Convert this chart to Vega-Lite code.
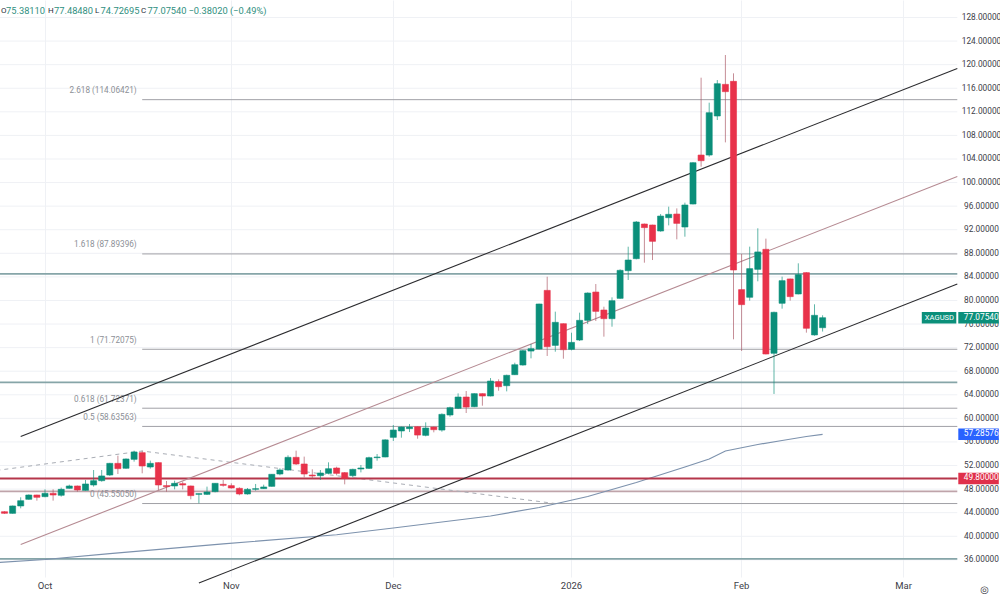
{"$schema":"https://vega.github.io/schema/vega-lite/v6.json","width":1000,"height":577,"autosize":"none","padding":{"left":0,"top":0,"right":0,"bottom":25},"background":"#ffffff","config":{"view":{"stroke":null},"text":{"font":"Roboto","fontSize":9.3},"axisY":{"labelOverlap":false,"labelBound":false}},
"datasets":{
"candles":[
{"d":"2025-09-24","o":44.17,"h":44.25,"l":43.8,"c":43.89},{"d":"2025-09-25","o":43.89,"h":45.2,"l":43.85,"c":45.14},{"d":"2025-09-26","o":45.14,"h":46.61,"l":44.74,"c":46.04},{"d":"2025-09-29","o":46.27,"h":47.1,"l":46.2,"c":47.0},{"d":"2025-09-30","o":47.0,"h":47.05,"l":46.04,"c":46.61},
{"d":"2025-10-01","o":46.72,"h":47.96,"l":46.61,"c":47.28},{"d":"2025-10-02","o":47.28,"h":47.96,"l":46.04,"c":47.0},{"d":"2025-10-03","o":46.95,"h":48.25,"l":46.72,"c":47.96},{"d":"2025-10-06","o":48.13,"h":48.75,"l":48.08,"c":48.53},{"d":"2025-10-07","o":48.53,"h":48.6,"l":47.57,"c":47.85},
{"d":"2025-10-08","o":47.79,"h":49.55,"l":47.73,"c":48.87},{"d":"2025-10-09","o":48.7,"h":51.24,"l":48.42,"c":49.43},{"d":"2025-10-10","o":49.43,"h":51.24,"l":49.26,"c":50.23},{"d":"2025-10-13","o":50.39,"h":52.45,"l":50.23,"c":52.37},{"d":"2025-10-14","o":52.37,"h":53.67,"l":50.56,"c":51.47},
{"d":"2025-10-15","o":51.53,"h":53.2,"l":51.45,"c":53.11},{"d":"2025-10-16","o":53.05,"h":54.52,"l":52.66,"c":54.3},{"d":"2025-10-17","o":54.18,"h":54.52,"l":50.68,"c":51.92},{"d":"2025-10-20","o":51.75,"h":52.83,"l":51.47,"c":52.37},{"d":"2025-10-21","o":52.49,"h":52.55,"l":47.85,"c":48.7},
{"d":"2025-10-22","o":48.59,"h":49.38,"l":47.57,"c":48.42},{"d":"2025-10-23","o":48.53,"h":49.43,"l":47.96,"c":48.98},{"d":"2025-10-24","o":48.92,"h":49.26,"l":47.96,"c":48.7},{"d":"2025-10-27","o":48.53,"h":48.6,"l":46.27,"c":46.89},{"d":"2025-10-28","o":47.11,"h":47.25,"l":45.59,"c":47.23},
{"d":"2025-10-29","o":47.11,"h":48.42,"l":47.0,"c":47.51},{"d":"2025-10-30","o":47.57,"h":49.0,"l":47.45,"c":48.98},{"d":"2025-10-31","o":48.81,"h":49.55,"l":48.42,"c":48.64},{"d":"2025-11-03","o":48.59,"h":48.98,"l":48.08,"c":48.19},{"d":"2025-11-04","o":48.13,"h":48.3,"l":46.95,"c":47.17},
{"d":"2025-11-05","o":47.17,"h":48.19,"l":47.06,"c":47.96},{"d":"2025-11-06","o":47.96,"h":48.87,"l":47.73,"c":48.08},{"d":"2025-11-07","o":48.08,"h":48.75,"l":48.02,"c":48.36},{"d":"2025-11-10","o":48.47,"h":50.56,"l":48.42,"c":50.51},{"d":"2025-11-11","o":50.56,"h":51.53,"l":50.34,"c":51.24},
{"d":"2025-11-12","o":51.24,"h":53.73,"l":51.13,"c":53.39},{"d":"2025-11-13","o":53.39,"h":54.52,"l":52.09,"c":52.26},{"d":"2025-11-14","o":52.26,"h":53.51,"l":50.0,"c":50.56},{"d":"2025-11-17","o":50.39,"h":51.36,"l":49.77,"c":50.23},{"d":"2025-11-18","o":50.28,"h":51.24,"l":49.55,"c":50.73},
{"d":"2025-11-19","o":50.67,"h":52.54,"l":50.5,"c":51.46},{"d":"2025-11-20","o":51.58,"h":51.8,"l":50.33,"c":50.67},{"d":"2025-11-21","o":50.79,"h":50.9,"l":48.81,"c":49.82},{"d":"2025-11-24","o":50.28,"h":51.46,"l":49.99,"c":51.35},{"d":"2025-11-25","o":51.41,"h":52.09,"l":50.84,"c":51.58},
{"d":"2025-11-26","o":51.52,"h":53.5,"l":51.41,"c":53.33},{"d":"2025-11-27","o":53.33,"h":53.95,"l":52.82,"c":53.44},{"d":"2025-11-28","o":53.45,"h":56.45,"l":53.4,"c":56.35},{"d":"2025-12-01","o":56.78,"h":58.87,"l":56.16,"c":58.02},{"d":"2025-12-02","o":57.86,"h":58.6,"l":56.72,"c":58.53},
{"d":"2025-12-03","o":58.25,"h":59.04,"l":57.68,"c":58.53},{"d":"2025-12-04","o":58.59,"h":58.65,"l":56.55,"c":57.17},{"d":"2025-12-05","o":57.12,"h":59.32,"l":56.95,"c":58.36},{"d":"2025-12-08","o":58.53,"h":58.6,"l":57.63,"c":58.08},{"d":"2025-12-09","o":58.02,"h":60.85,"l":57.74,"c":60.68},
{"d":"2025-12-10","o":60.57,"h":61.98,"l":60.28,"c":61.81},{"d":"2025-12-11","o":61.7,"h":64.24,"l":61.58,"c":63.62},{"d":"2025-12-12","o":63.62,"h":64.64,"l":60.91,"c":61.92},{"d":"2025-12-15","o":61.98,"h":64.25,"l":61.9,"c":64.19},{"d":"2025-12-16","o":64.19,"h":64.25,"l":62.15,"c":63.79},
{"d":"2025-12-17","o":63.79,"h":66.84,"l":63.73,"c":66.33},{"d":"2025-12-18","o":66.22,"h":66.62,"l":64.69,"c":65.37},{"d":"2025-12-19","o":65.54,"h":67.41,"l":64.58,"c":67.3},{"d":"2025-12-22","o":67.41,"h":69.44,"l":67.35,"c":69.1},{"d":"2025-12-23","o":69.05,"h":71.59,"l":68.93,"c":71.48},
{"d":"2025-12-24","o":71.42,"h":72.61,"l":70.18,"c":71.82},{"d":"2025-12-26","o":71.76,"h":79.45,"l":71.7,"c":79.4},{"d":"2025-12-29","o":81.71,"h":84.03,"l":70.58,"c":72.16},{"d":"2025-12-30","o":72.38,"h":78.1,"l":71.31,"c":76.29},{"d":"2025-12-31","o":76.06,"h":76.1,"l":70.12,"c":71.65},
{"d":"2026-01-01","o":71.71,"h":74.53,"l":71.54,"c":72.89},{"d":"2026-01-02","o":73.29,"h":77.93,"l":73.12,"c":76.63},{"d":"2026-01-05","o":76.63,"h":81.37,"l":76.0,"c":81.26},{"d":"2026-01-06","o":81.43,"h":82.79,"l":76.51,"c":78.15},{"d":"2026-01-07","o":78.38,"h":78.94,"l":73.86,"c":76.91},
{"d":"2026-01-08","o":76.91,"h":80.53,"l":75.55,"c":79.96},{"d":"2026-01-09","o":80.36,"h":85.28,"l":80.3,"c":85.11},{"d":"2026-01-12","o":85.05,"h":89.12,"l":83.47,"c":86.86},{"d":"2026-01-13","o":87.09,"h":93.48,"l":86.97,"c":93.31},{"d":"2026-01-14","o":92.97,"h":93.05,"l":86.41,"c":92.35},
{"d":"2026-01-15","o":92.8,"h":92.85,"l":86.86,"c":90.03},{"d":"2026-01-16","o":91.78,"h":94.66,"l":91.67,"c":94.32},{"d":"2026-01-20","o":94.04,"h":95.91,"l":92.74,"c":94.61},{"d":"2026-01-21","o":94.66,"h":95.62,"l":90.37,"c":93.08},{"d":"2026-01-22","o":92.46,"h":96.59,"l":90.82,"c":96.19},
{"d":"2026-01-23","o":96.36,"h":103.45,"l":96.3,"c":103.37},{"d":"2026-01-26","o":104.67,"h":117.79,"l":102.69,"c":103.71},{"d":"2026-01-27","o":104.67,"h":113.55,"l":104.39,"c":111.85},{"d":"2026-01-28","o":111.29,"h":117.39,"l":110.61,"c":116.77},{"d":"2026-01-29","o":116.66,"h":121.64,"l":106.82,"c":115.42},
{"d":"2026-01-30","o":117.17,"h":118.53,"l":73.41,"c":85.17},{"d":"2026-02-02","o":81.84,"h":87.89,"l":71.43,"c":79.29},{"d":"2026-02-03","o":80.54,"h":89.13,"l":79.97,"c":85.4},{"d":"2026-02-04","o":85.28,"h":92.24,"l":83.25,"c":88.23},{"d":"2026-02-05","o":88.68,"h":90.49,"l":70.85,"c":70.92},
{"d":"2026-02-06","o":71.04,"h":78.1,"l":64.14,"c":77.99},{"d":"2026-02-09","o":79.52,"h":84.04,"l":78.61,"c":83.36},{"d":"2026-02-10","o":83.65,"h":83.7,"l":79.97,"c":80.65},{"d":"2026-02-11","o":81.1,"h":86.3,"l":81.04,"c":84.38},{"d":"2026-02-12","o":84.72,"h":84.8,"l":74.54,"c":75.28},
{"d":"2026-02-13","o":74.15,"h":79.35,"l":74.03,"c":77.48},{"d":"2026-02-16","o":75.3811,"h":77.4848,"l":74.72695,"c":77.0754}
],
"sma":[{"d":"2025-09-23","p":35.53},{"d":"2025-10-01","p":36.06},{"d":"2025-10-13","p":37.07},{"d":"2025-10-31","p":38.7},{"d":"2025-11-20","p":40.26},{"d":"2025-12-01","p":41.4},{"d":"2025-12-17","p":43.44},{"d":"2025-12-26","p":44.88},{"d":"2026-01-05","p":46.75},{"d":"2026-01-13","p":49.12},{"d":"2026-01-22","p":51.75},{"d":"2026-01-27","p":53.1},{"d":"2026-01-29","p":54.46},{"d":"2026-02-04","p":55.57},{"d":"2026-02-09","p":56.25},{"d":"2026-02-12","p":56.92},{"d":"2026-02-16","p":57.28576}],
"zigzag":[{"d":"2025-09-23","p":51.16},{"d":"2025-10-17","p":54.46},{"d":"2025-12-30","p":45.55}],
"channels":[{"d":"2025-09-26","d2":"2026-03-11","p":56.92,"p2":119.35,"name":"upper"},{"d":"2025-09-26","d2":"2026-03-11","p":38.6,"p2":101.03,"name":"middle"},{"d":"2025-10-28","d2":"2026-03-11","p":32.07,"p2":82.79,"name":"lower"}],
"fib":[{"d":"2025-10-17","d2":"2026-03-11","p":114.06421,"t":"2.618 (114.06421)"},{"d":"2025-10-17","d2":"2026-03-11","p":87.89396,"t":"1.618 (87.89396)"},{"d":"2025-10-17","d2":"2026-03-11","p":71.72075,"t":"1 (71.72075)"},{"d":"2025-10-17","d2":"2026-03-11","p":61.72371,"t":"0.618 (61.72371)"},{"d":"2025-10-17","d2":"2026-03-11","p":58.63563,"t":"0.5 (58.63563)"},{"d":"2025-10-17","d2":"2026-03-11","p":45.5505,"t":"0 (45.55050)"}],
"levels":[{"d":"2025-09-23","d2":"2026-03-11","p":84.5,"kind":"a"},{"d":"2025-09-23","d2":"2026-03-11","p":66.1,"kind":"a"},{"d":"2025-09-23","d2":"2026-03-11","p":36.15,"kind":"a"},{"d":"2025-09-23","d2":"2026-03-11","p":49.8,"kind":"b"},{"d":"2025-09-23","d2":"2026-03-11","p":47.6,"kind":"c"}],
"ygrid":[{"d":"2025-09-23","d2":"2026-03-11","p":128},{"d":"2025-09-23","d2":"2026-03-11","p":124},{"d":"2025-09-23","d2":"2026-03-11","p":120},{"d":"2025-09-23","d2":"2026-03-11","p":116},{"d":"2025-09-23","d2":"2026-03-11","p":112},{"d":"2025-09-23","d2":"2026-03-11","p":108},{"d":"2025-09-23","d2":"2026-03-11","p":104},{"d":"2025-09-23","d2":"2026-03-11","p":100},{"d":"2025-09-23","d2":"2026-03-11","p":96},{"d":"2025-09-23","d2":"2026-03-11","p":92},{"d":"2025-09-23","d2":"2026-03-11","p":88},{"d":"2025-09-23","d2":"2026-03-11","p":84},{"d":"2025-09-23","d2":"2026-03-11","p":80},{"d":"2025-09-23","d2":"2026-03-11","p":76},{"d":"2025-09-23","d2":"2026-03-11","p":72},{"d":"2025-09-23","d2":"2026-03-11","p":68},{"d":"2025-09-23","d2":"2026-03-11","p":64},{"d":"2025-09-23","d2":"2026-03-11","p":60},{"d":"2025-09-23","d2":"2026-03-11","p":56},{"d":"2025-09-23","d2":"2026-03-11","p":52},{"d":"2025-09-23","d2":"2026-03-11","p":48},{"d":"2025-09-23","d2":"2026-03-11","p":44},{"d":"2025-09-23","d2":"2026-03-11","p":40},{"d":"2025-09-23","d2":"2026-03-11","p":36}],
"tags":[{"d":"2026-03-11","d2":"2026-03-18","p":77.0754,"t":"77.07540","col":"#0b8f7a"},{"d":"2026-03-11","d2":"2026-03-18","p":57.28576,"t":"57.28576","col":"#2962ff"},{"d":"2026-03-11","d2":"2026-03-18","p":49.8,"t":"49.80000","col":"#e0304a"}]
},
"encoding":{"x":{"field":"d","type":"ordinal","title":null,"sort":null,
"scale":{"type":"band","paddingInner":0.25,"paddingOuter":0.125,"range":[-7.65,1004.85],"domain":["2025-09-23","2025-09-24","2025-09-25","2025-09-26","2025-09-29","2025-09-30","2025-10-01","2025-10-02","2025-10-03","2025-10-06","2025-10-07","2025-10-08","2025-10-09","2025-10-10","2025-10-13","2025-10-14","2025-10-15","2025-10-16","2025-10-17","2025-10-20","2025-10-21","2025-10-22","2025-10-23","2025-10-24","2025-10-27","2025-10-28","2025-10-29","2025-10-30","2025-10-31","2025-11-03","2025-11-04","2025-11-05","2025-11-06","2025-11-07","2025-11-10","2025-11-11","2025-11-12","2025-11-13","2025-11-14","2025-11-17","2025-11-18","2025-11-19","2025-11-20","2025-11-21","2025-11-24","2025-11-25","2025-11-26","2025-11-27","2025-11-28","2025-12-01","2025-12-02","2025-12-03","2025-12-04","2025-12-05","2025-12-08","2025-12-09","2025-12-10","2025-12-11","2025-12-12","2025-12-15","2025-12-16","2025-12-17","2025-12-18","2025-12-19","2025-12-22","2025-12-23","2025-12-24","2025-12-26","2025-12-29","2025-12-30","2025-12-31","2026-01-01","2026-01-02","2026-01-05","2026-01-06","2026-01-07","2026-01-08","2026-01-09","2026-01-12","2026-01-13","2026-01-14","2026-01-15","2026-01-16","2026-01-20","2026-01-21","2026-01-22","2026-01-23","2026-01-26","2026-01-27","2026-01-28","2026-01-29","2026-01-30","2026-02-02","2026-02-03","2026-02-04","2026-02-05","2026-02-06","2026-02-09","2026-02-10","2026-02-11","2026-02-12","2026-02-13","2026-02-16","2026-02-17","2026-02-18","2026-02-19","2026-02-20","2026-02-23","2026-02-24","2026-02-25","2026-02-26","2026-02-27","2026-03-02","2026-03-03","2026-03-04","2026-03-05","2026-03-06","2026-03-09","2026-03-10","2026-03-11","2026-03-12","2026-03-13","2026-03-16","2026-03-17","2026-03-18"]},
"axis":{"values":["2025-10-01","2025-11-03","2025-12-01","2026-01-01","2026-02-02","2026-03-02"],"labelExpr":"{'2025-10-01':'Oct','2025-11-03':'Nov','2025-12-01':'Dec','2026-01-01':'2026','2026-02-02':'Feb','2026-03-02':'Mar'}[datum.value]","labelAngle":0,"grid":true,"gridColor":"#eff1f5","gridWidth":1,"ticks":false,"domain":false,"labelPadding":8,"labelFont":"Roboto","labelFontSize":9.5,"labelColor":"#3d4048","labelBaseline":"middle","bandPosition":0.5}},
"y":{"field":"p","type":"quantitative","title":null,"scale":{"domain":[33.09,130.97],"nice":false,"zero":false},"axis":{"values":[128,124,120,116,112,108,104,100,96,92,88,84,80,76,72,68,64,60,56,52,48,44,40,36],"format":".5f","orient":"right","offset":-43,"grid":false,"ticks":false,"domain":false,"labelPadding":24,"labelFont":"Roboto","labelFontSize":8.3,"labelColor":"#3d4048","labelAlign":"center","labelOverlap":false,"labelBound":false,"labelSeparation":0}}},
"layer":[
{"data":{"name":"ygrid"},"mark":{"type":"rule","color":"#eff1f5","strokeWidth":1,"x2Offset":-3},"encoding":{"x2":{"field":"d2"}}},
{"data":{"name":"levels"},"transform":[{"filter":"datum.kind=='c'"}],"mark":{"type":"rule","color":"#bfa4aa","strokeWidth":1.8,"x2Offset":-3},"encoding":{"x2":{"field":"d2"}}},
{"data":{"name":"levels"},"transform":[{"filter":"datum.kind=='a'"}],"mark":{"type":"rule","color":"#86a5a8","strokeWidth":1.8,"x2Offset":-3},"encoding":{"x2":{"field":"d2"}}},
{"data":{"name":"fib"},"mark":{"type":"rule","color":"#a0a0a6","strokeWidth":1,"x2Offset":-3},"encoding":{"x2":{"field":"d2"}}},
{"data":{"name":"fib"},"mark":{"type":"text","align":"right","baseline":"middle","dx":-5.5,"dy":-8.5,"color":"#8c8f96","fontSize":8.2},"encoding":{"text":{"field":"t"}}},
{"data":{"name":"zigzag"},"mark":{"type":"line","color":"#a9adb5","strokeWidth":1,"strokeDash":[4,4]}},
{"data":{"name":"sma"},"mark":{"type":"line","color":"#7d92ad","strokeWidth":1.2}},
{"data":{"name":"levels"},"transform":[{"filter":"datum.kind=='b'"}],"mark":{"type":"rule","color":"#b5364b","strokeWidth":2,"x2Offset":-3},"encoding":{"x2":{"field":"d2"}}},
{"data":{"name":"channels"},"transform":[{"filter":"datum.name=='middle'"}],"mark":{"type":"rule","color":"#b58a92","strokeWidth":1.1,"x2Offset":-3},"encoding":{"y2":{"field":"p2"},"x2":{"field":"d2"}}},
{"data":{"name":"channels"},"transform":[{"filter":"datum.name!='middle'"}],"mark":{"type":"rule","color":"#2b2b2e","strokeWidth":1.1,"x2Offset":-3},"encoding":{"y2":{"field":"p2"},"x2":{"field":"d2"}}},
{"data":{"name":"candles"},"mark":{"type":"rule","strokeWidth":1,"opacity":0.65},"encoding":{"y":{"field":"l","type":"quantitative","title":null,"axis":{"values":[128,124,120,116,112,108,104,100,96,92,88,84,80,76,72,68,64,60,56,52,48,44,40,36],"format":".5f","orient":"right","offset":-43,"grid":false,"ticks":false,"domain":false,"labelPadding":24,"labelFont":"Roboto","labelFontSize":8.3,"labelColor":"#3d4048","labelAlign":"center","labelOverlap":false,"labelBound":false,"labelSeparation":0}},"y2":{"field":"h"},"color":{"condition":{"test":"datum.c>=datum.o","value":"#0b8f7a"},"value":"#a8525f"}}},
{"data":{"name":"candles"},"mark":{"type":"bar","strokeWidth":0.6},"encoding":{"y":{"field":"o","type":"quantitative","title":null,"axis":{"values":[128,124,120,116,112,108,104,100,96,92,88,84,80,76,72,68,64,60,56,52,48,44,40,36],"format":".5f","orient":"right","offset":-43,"grid":false,"ticks":false,"domain":false,"labelPadding":24,"labelFont":"Roboto","labelFontSize":8.3,"labelColor":"#3d4048","labelAlign":"center","labelOverlap":false,"labelBound":false,"labelSeparation":0}},"y2":{"field":"c"},"color":{"condition":{"test":"datum.c>=datum.o","value":"#0b8f7a"},"value":"#e8324a"},"stroke":{"condition":{"test":"datum.c>=datum.o","value":"#0b8f7a"},"value":"#e8324a"}}},
{"data":{"values":[{"d":"2026-03-04","d2":"2026-03-11","p":77.0754}]},"mark":{"type":"rule","color":"#0b8f7a","strokeWidth":11.5,"xOffset":2,"x2Offset":-4},"encoding":{"x2":{"field":"d2"}}},
{"data":{"values":[{"d":"2026-03-04","p":77.0754,"t":"XAGUSD"}]},"mark":{"type":"text","align":"left","baseline":"middle","color":"#ffffff","fontSize":7.6,"dx":5},"encoding":{"text":{"field":"t"}}},
{"data":{"name":"tags"},"mark":{"type":"rule","strokeWidth":11.5,"xOffset":-2,"x2Offset":-2},"encoding":{"x2":{"field":"d2"},"color":{"field":"col","type":"nominal","scale":null}}},
{"data":{"name":"tags"},"mark":{"type":"text","align":"left","baseline":"middle","color":"#ffffff","fontSize":8.3,"dx":3.5},"encoding":{"text":{"field":"t"}}},
{"data":{"values":[{"d":"2026-03-16","p":30.9,"t":"◎"}]},"mark":{"type":"text","align":"center","baseline":"middle","color":"#3d4048","font":"DejaVu Sans","fontSize":10},"encoding":{"text":{"field":"t"}}},
{"data":{"values":[{"d":"2025-09-24","p":129.1,"t":"O"}]},"mark":{"type":"text","align":"left","baseline":"middle","color":"#2a2e39","fontSize":8,"dx":-3.5},"encoding":{"text":{"field":"t"}}},
{"data":{"values":[{"d":"2025-09-24","p":129.1,"t":"75.38110"}]},"mark":{"type":"text","align":"left","baseline":"middle","color":"#2f8f80","dx":1.5},"encoding":{"text":{"field":"t"}}},
{"data":{"values":[{"d":"2025-09-24","p":129.1,"t":"H"}]},"mark":{"type":"text","align":"left","baseline":"middle","color":"#2a2e39","fontSize":8,"dx":43.5},"encoding":{"text":{"field":"t"}}},
{"data":{"values":[{"d":"2025-09-24","p":129.1,"t":"77.48480"}]},"mark":{"type":"text","align":"left","baseline":"middle","color":"#2f8f80","dx":49.5},"encoding":{"text":{"field":"t"}}},
{"data":{"values":[{"d":"2025-09-24","p":129.1,"t":"L"}]},"mark":{"type":"text","align":"left","baseline":"middle","color":"#2a2e39","fontSize":8,"dx":90.5},"encoding":{"text":{"field":"t"}}},
{"data":{"values":[{"d":"2025-09-24","p":129.1,"t":"74.72695"}]},"mark":{"type":"text","align":"left","baseline":"middle","color":"#2f8f80","dx":96},"encoding":{"text":{"field":"t"}}},
{"data":{"values":[{"d":"2025-09-24","p":129.1,"t":"C"}]},"mark":{"type":"text","align":"left","baseline":"middle","color":"#2a2e39","fontSize":8,"dx":136.5},"encoding":{"text":{"field":"t"}}},
{"data":{"values":[{"d":"2025-09-24","p":129.1,"t":"77.07540"}]},"mark":{"type":"text","align":"left","baseline":"middle","color":"#2f8f80","dx":143},"encoding":{"text":{"field":"t"}}},
{"data":{"values":[{"d":"2025-09-24","p":129.1,"t":"−0.38020 (−0.49%)"}]},"mark":{"type":"text","align":"left","baseline":"middle","color":"#2f8f80","dx":184},"encoding":{"text":{"field":"t"}}}
]}
